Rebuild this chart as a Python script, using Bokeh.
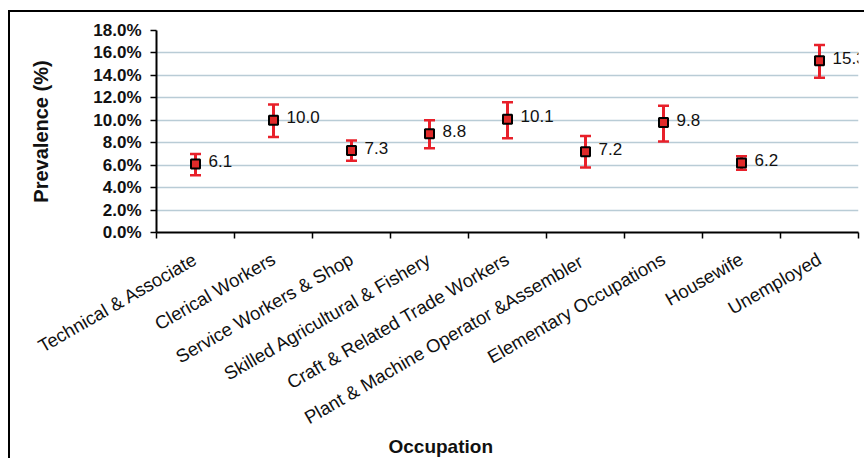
import math
from bokeh.plotting import figure
from bokeh.models import (Range1d, FixedTicker, PrintfTickFormatter, Whisker, TeeHead,
                          ColumnDataSource, Title)
from bokeh.core.properties import value
from bokeh.embed import file_html
from bokeh.resources import INLINE

categories = ["Technical & Associate", "Clerical Workers", "Service Workers & Shop",
              "Skilled Agricultural & Fishery", "Craft & Related Trade Workers",
              "Plant &  Machine Operator &Assembler", "Elementary Occupations",
              "Housewife", "Unemployed"]
prevalence = [6.1, 10.0, 7.3, 8.8, 10.1, 7.2, 9.8, 6.2, 15.3]
ci_lower = [5.1, 8.5, 6.4, 7.5, 8.4, 5.8, 8.1, 5.6, 13.8]
ci_upper = [7.0, 11.4, 8.2, 10.0, 11.6, 8.6, 11.3, 6.8, 16.7]
y_ticks = [0, 2, 4, 6, 8, 10, 12, 14, 16, 18]

n = len(categories)
pos = list(range(n))
src = ColumnDataSource(dict(x=pos, y=prevalence, lo=ci_lower, hi=ci_upper,
                            lab=["%.1f" % v for v in prevalence]))

FONT = "Liberation Sans"
RED = "#e8202a"
TXT = "#111111"

p = figure(width=856, height=448, x_range=Range1d(-0.5, n - 0.5), y_range=Range1d(0, 18),
           output_backend="svg", toolbar_location=None,
           min_border_left=146, min_border_right=8, min_border_top=18, min_border_bottom=228,
           margin=(10, 0, 0, 8),
           styles={"border-left": "2px solid black", "border-top": "2px solid black"})
p.outline_line_color = None
p.background_fill_color = "white"
p.border_fill_color = "white"

# grid
p.xgrid.grid_line_color = None
p.ygrid.grid_line_color = "#b9ccd6"
p.ygrid.grid_line_width = 1.5
p.yaxis.ticker = FixedTicker(ticks=y_ticks)
p.yaxis.formatter = PrintfTickFormatter(format="%.1f%%")

# y axis
p.yaxis.axis_line_color = "black"
p.yaxis.axis_line_width = 2
p.yaxis.major_tick_line_color = "black"
p.yaxis.major_tick_line_width = 1.5
p.yaxis.major_tick_out = 6
p.yaxis.major_tick_in = 0
p.yaxis.minor_tick_line_color = None
p.yaxis.major_label_text_font = FONT
p.yaxis.major_label_text_font_size = "17px"
p.yaxis.major_label_text_font_style = "bold"
p.yaxis.major_label_text_color = TXT
p.yaxis.major_label_standoff = 9
p.yaxis.axis_label = "Prevalence (%)"
p.yaxis.axis_label_text_font = FONT
p.yaxis.axis_label_text_font_size = "20px"
p.yaxis.axis_label_text_font_style = "bold"
p.yaxis.axis_label_text_color = TXT
p.yaxis.axis_label_standoff = 38

# x axis
p.xaxis.ticker = FixedTicker(ticks=pos, minor_ticks=[i - 0.5 for i in range(n + 1)])
p.xaxis.major_label_overrides = {i: c for i, c in enumerate(categories)}
p.xaxis.major_label_orientation = math.pi / 6
p.xaxis.axis_line_color = "black"
p.xaxis.axis_line_width = 2
p.xaxis.major_tick_line_color = None
p.xaxis.minor_tick_line_color = "black"
p.xaxis.minor_tick_line_width = 1.5
p.xaxis.minor_tick_out = 6
p.xaxis.minor_tick_in = 0
p.xaxis.major_label_text_font = FONT
p.xaxis.major_label_text_font_size = "18.5px"
p.xaxis.major_label_text_color = TXT
p.xaxis.major_label_standoff = 19

# x axis title (placed left of the frame centre as in the reference)
p.add_layout(Title(text="Occupation", align="left", offset=232, standoff=-13,
                   text_font=FONT, text_font_size="19px", text_font_style="bold",
                   text_color=TXT), "below")

# error bars
p.add_layout(Whisker(source=src, base="x", upper="hi", lower="lo",
                     line_color=RED, line_width=3,
                     upper_head=TeeHead(size=11, line_color=RED, line_width=2.5),
                     lower_head=TeeHead(size=11, line_color=RED, line_width=2.5)))

# points
p.scatter("x", "y", source=src, marker="square", size=9, fill_color="#e02a2a",
          line_color="black", line_width=2)

# value labels
p.text("x", "y", text="lab", source=src, x_offset=13, y_offset=-3,
       text_font=value(FONT), text_font_size="17px", text_align="left",
       text_baseline="middle", text_color=TXT)

open("out.html", "w").write(file_html(p, INLINE))
